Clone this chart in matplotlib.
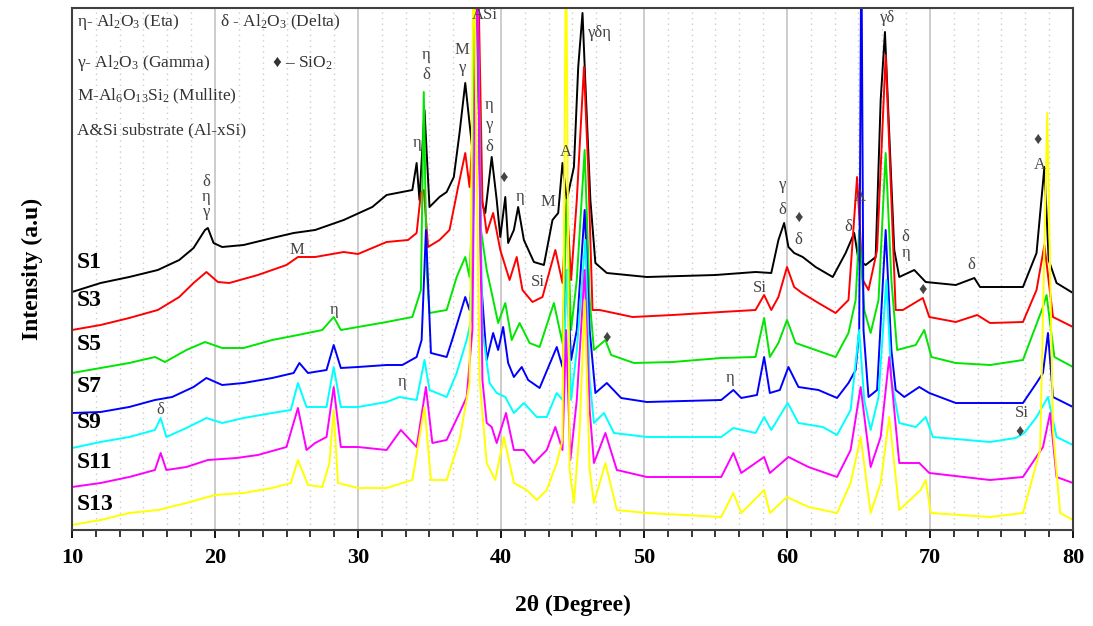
import numpy as np
import matplotlib.pyplot as plt

plt.rcParams['font.family'] = ['Liberation Serif', 'DejaVu Serif']
plt.rcParams['mathtext.fontset'] = 'custom'
plt.rcParams['mathtext.rm'] = 'Liberation Serif'

# (2theta, intensity a.u.), offset traces
s1 = [(10, 238), (12, 247), (14, 253), (16, 260), (17.5, 270), (18.5, 282), (19.3, 300), (19.5, 302),
      (19.9, 287), (20.5, 283), (22, 285), (24, 292), (25.5, 297), (27, 300), (29, 310), (31, 323),
      (32, 335), (33.8, 340), (34.1, 367), (34.3, 330), (34.65, 420), (35.0, 323), (35.7, 333),
      (36.2, 338), (36.7, 353), (37.1, 397), (37.5, 447), (37.7, 420), (38.0, 380), (38.3, 600),
      (38.6, 330), (38.9, 317), (39.35, 373), (39.7, 330), (39.95, 293), (40.3, 333), (40.5, 287),
      (40.9, 300), (41.2, 323), (41.6, 290), (42.3, 268), (43.0, 265), (43.6, 310), (44.0, 317),
      (44.3, 367), (44.6, 330), (45.1, 363), (45.4, 463), (45.7, 517), (45.9, 447), (46.25, 330),
      (46.6, 267), (47.4, 257), (50.2, 253), (55.0, 255), (57.8, 258), (58.9, 257), (59.4, 290),
      (59.8, 307), (60.1, 283), (60.5, 277), (61.1, 273), (62.0, 263), (63.2, 253), (64.1, 277),
      (64.7, 297), (65.0, 270), (65.5, 265), (66.2, 273), (66.55, 430), (66.85, 498), (67.1, 413),
      (67.5, 280), (67.85, 253), (68.9, 260), (69.7, 248), (71.8, 245), (73.1, 252), (73.5, 243),
      (76.5, 243), (77.45, 277), (78.0, 363), (78.3, 270), (78.85, 247), (80, 237)]
s3 = [(10, 200), (12, 205), (14, 212), (16, 220), (17.5, 233), (18.5, 247), (19.4, 258), (20.2, 248),
      (21, 247), (23, 255), (25, 265), (25.8, 273), (27, 273), (29, 278), (30, 276), (32, 288),
      (33.5, 290), (34.1, 297), (34.4, 337), (34.6, 340), (34.9, 283), (35.7, 290), (36.4, 300),
      (37.0, 343), (37.5, 377), (37.8, 343), (38.05, 400), (38.35, 600), (38.7, 330), (39.0, 297),
      (39.45, 317), (39.95, 280), (40.6, 250), (41.1, 273), (41.5, 240), (42.2, 228), (42.9, 233),
      (43.8, 280), (44.3, 247), (44.6, 330), (44.9, 250), (45.3, 330), (45.8, 463), (46.1, 360),
      (46.4, 220), (46.9, 220), (49.2, 213), (52, 215), (55.4, 218), (57.8, 220), (58.4, 235),
      (58.9, 220), (59.4, 233), (60.0, 263), (60.5, 243), (61.05, 237), (62.2, 227), (63.4, 217),
      (64.3, 230), (64.9, 353), (65.3, 250), (65.7, 240), (66.3, 280), (66.9, 475), (67.3, 330),
      (67.6, 220), (68.1, 220), (69.5, 232), (69.95, 213), (71.8, 208), (73.3, 215), (74.2, 207),
      (76.5, 208), (77.45, 240), (78.0, 285), (78.6, 213), (80, 203)]
s5 = [(10, 157), (12, 162), (14, 167), (15.8, 173), (16.5, 168), (18, 180), (19.3, 188), (20.5, 182),
      (22, 182), (24, 190), (25.8, 195), (27.5, 200), (28.3, 213), (28.8, 200), (30, 203), (32, 208),
      (33.8, 213), (34.4, 240), (34.6, 438), (34.8, 260), (35.0, 217), (36.2, 220), (36.9, 253),
      (37.5, 273), (37.8, 253), (38.0, 320), (38.2, 600), (38.6, 300), (39.0, 260), (39.35, 237),
      (39.8, 207), (40.3, 227), (40.75, 190), (41.3, 207), (42.0, 187), (42.7, 183), (43.7, 227),
      (44.3, 187), (44.6, 330), (44.9, 200), (45.3, 250), (45.85, 380), (46.2, 230), (46.5, 180),
      (47.3, 190), (47.7, 175), (49.3, 167), (52, 168), (55.4, 172), (57.8, 173), (58.4, 212),
      (58.8, 173), (59.4, 187), (60.0, 210), (60.6, 187), (62.0, 180), (63.4, 173), (64.3, 197),
      (64.8, 230), (65.05, 300), (65.4, 220), (65.85, 197), (66.4, 230), (66.9, 377), (67.3, 250),
      (67.7, 180), (69.0, 185), (69.6, 200), (70.1, 173), (71.8, 167), (74.2, 165), (76.5, 170),
      (77.9, 223), (78.15, 235), (78.7, 173), (80, 163)]
s7 = [(10, 117), (12, 118), (14, 123), (15.8, 130), (17, 133), (18.5, 143), (19.4, 152), (20.5, 145),
      (22, 147), (24, 152), (25.5, 157), (25.9, 167), (26.5, 157), (27.8, 160), (28.3, 185), (28.8, 162),
      (30, 163), (32, 165), (33.1, 165), (34.1, 173), (34.45, 190), (34.75, 300), (35.1, 177),
      (36.2, 173), (36.65, 193), (37.5, 233), (37.8, 220), (38.0, 260), (38.3, 600), (38.6, 250),
      (39.0, 170), (39.45, 197), (39.8, 180), (40.15, 203), (40.5, 167), (40.9, 153), (41.45, 163),
      (41.9, 150), (42.7, 142), (43.9, 183), (44.3, 163), (44.6, 260), (44.9, 170), (45.3, 200),
      (45.85, 320), (46.2, 200), (46.6, 137), (47.4, 147), (48.4, 132), (50.2, 128), (55.4, 130),
      (56.25, 140), (56.8, 132), (57.9, 135), (58.4, 173), (58.8, 137), (59.5, 140), (60.1, 163),
      (60.8, 143), (62.2, 140), (63.5, 132), (64.3, 147), (64.8, 160), (65.05, 200), (65.2, 600),
      (65.35, 200), (65.7, 133), (66.3, 140), (66.9, 300), (67.3, 180), (67.6, 140), (68.2, 133),
      (69.25, 143), (69.95, 137), (71.8, 127), (74.2, 127), (76.5, 127), (77.45, 147), (77.9, 157),
      (78.25, 197), (78.6, 133), (80, 123)]
s9 = [(10, 82), (12, 88), (14, 93), (15.8, 100), (16.2, 112), (16.6, 93), (18, 102), (19.4, 112),
      (20.5, 107), (22, 112), (24, 117), (25.3, 120), (25.8, 147), (26.4, 123), (27.8, 123), (28.3, 163),
      (28.8, 123), (30, 123), (32, 128), (32.9, 133), (34.1, 130), (34.65, 170), (35.0, 140),
      (36.2, 133), (36.9, 157), (37.6, 190), (37.95, 213), (38.3, 600), (38.7, 200), (39.2, 147),
      (39.7, 137), (40.3, 133), (40.9, 117), (41.6, 127), (42.5, 113), (43.2, 113), (43.9, 137),
      (44.3, 130), (44.6, 260), (44.9, 130), (45.3, 180), (45.9, 290), (46.2, 150), (46.5, 107),
      (47.2, 117), (47.9, 97), (50.2, 93), (55.4, 93), (56.25, 102), (57.8, 97), (58.4, 113),
      (58.9, 100), (60.05, 127), (60.8, 107), (62.5, 103), (63.5, 95), (64.45, 120), (65.05, 200),
      (65.4, 130), (65.85, 100), (66.4, 133), (66.95, 250), (67.3, 150), (67.85, 107), (69.0, 103),
      (69.7, 113), (70.2, 93), (74.2, 88), (76.0, 92), (76.6, 97), (77.45, 113), (78.25, 133),
      (78.85, 93), (80, 85)]
s11 = [(10, 43), (12, 47), (14, 53), (15.8, 60), (16.2, 77), (16.6, 60), (18, 63), (19.5, 70),
       (21.5, 72), (23, 75), (25, 83), (25.8, 122), (26.4, 80), (27, 87), (27.8, 93), (28.3, 143),
       (28.8, 83), (30, 83), (32, 80), (33.0, 100), (34.1, 83), (34.75, 143), (35.2, 87), (36.2, 90),
       (37.1, 117), (37.6, 133), (38.0, 200), (38.3, 600), (38.7, 150), (39.0, 107), (39.35, 103),
       (39.7, 87), (40.35, 117), (40.9, 80), (41.6, 80), (42.3, 67), (43.2, 80), (43.8, 103),
       (44.3, 80), (44.55, 200), (44.85, 70), (45.3, 130), (45.85, 260), (46.2, 120), (46.5, 67),
       (47.3, 97), (48.1, 60), (50.2, 53), (55.4, 53), (56.25, 77), (56.8, 57), (58.4, 73), (58.8, 57),
       (60.1, 73), (61.5, 63), (63.5, 53), (64.45, 80), (65.15, 143), (65.85, 63), (66.55, 93),
       (67.15, 173), (67.85, 67), (69.25, 67), (69.95, 57), (74.2, 50), (76.5, 53), (77.9, 83),
       (78.4, 117), (78.85, 53), (80, 47)]
s13 = [(10, 5), (12, 10), (14, 17), (16, 20), (18, 27), (20, 35), (22, 37), (24, 42), (25.3, 47),
       (25.8, 70), (26.5, 45), (27.5, 43), (28.0, 67), (28.3, 120), (28.6, 47), (30, 42), (32, 42),
       (33.8, 50), (34.65, 123), (35.1, 50), (36.2, 50), (37.1, 90), (37.8, 147), (38.1, 600),
       (38.5, 150), (39.0, 67), (39.6, 50), (40.2, 93), (40.9, 47), (41.8, 40), (42.5, 30), (43.2, 40),
       (43.9, 67), (44.3, 90), (44.55, 600), (44.8, 60), (45.1, 27), (45.5, 100), (45.85, 230),
       (46.2, 60), (46.5, 27), (47.3, 67), (48.1, 20), (50.2, 17), (55.4, 13), (56.25, 37), (56.8, 17),
       (58.4, 40), (58.8, 17), (60.0, 33), (61.5, 23), (63.5, 17), (64.45, 47), (65.15, 93),
       (65.85, 17), (66.55, 47), (67.15, 113), (67.85, 20), (69.35, 40), (69.7, 50), (70.05, 17),
       (74.2, 13), (76.5, 17), (77.7, 80), (78.2, 417), (78.6, 100), (79.1, 17), (80, 10)]

samples = ['S1', 'S3', 'S5', 'S7', 'S9', 'S11', 'S13']
traces = [s1, s3, s5, s7, s9, s11, s13]
colors = ['black', '#ff0000', '#00e600', '#0000ff', '#00ffff', '#ff00ff', '#ffff00']
label_y = [268, 230, 185, 143, 107, 67, 25]

# phase marks: (2theta, height, text)
peak_marks = [(19.4, 348, 'δ'), (19.4, 333, 'η'), (19.4, 318, 'γ'), (25.7, 280, 'M'),
              (34.1, 387, 'η'), (34.75, 475, 'η'), (34.75, 455, 'δ'), (37.3, 480, 'M'),
              (37.3, 462, 'γ'), (38.9, 515, 'ASi'), (39.2, 425, 'η'), (39.2, 405, 'γ'),
              (39.2, 383, 'δ'), (40.2, 352, '♦'), (41.3, 333, 'η'), (43.3, 328, 'M'),
              (44.5, 378, 'A'), (42.6, 248, 'Si'), (28.3, 220, 'η'), (16.2, 120, 'δ'),
              (33.1, 148, 'η'), (47.4, 192, '♦'), (56.0, 152, 'η'), (58.1, 242, 'Si'),
              (59.7, 345, 'γ'), (59.7, 320, 'δ'), (60.8, 312, '♦'), (60.8, 290, 'δ'),
              (64.3, 303, 'δ'), (65.1, 333, 'A'), (67.0, 512, 'γδ'), (68.3, 293, 'δ'),
              (68.3, 277, 'η'), (69.5, 240, '♦'), (72.9, 265, 'δ'), (77.5, 390, '♦'),
              (77.7, 365, 'A'), (76.4, 117, 'Si'), (76.3, 98, '♦')]

fig = plt.figure(figsize=(10.93, 6.26), dpi=100)
ax = fig.add_axes([72 / 1093, 1 - 530 / 626, 1001 / 1093, 522 / 626])

for name, data, c in zip(samples, traces, colors):
    tth = [p[0] for p in data]
    inten = [p[1] for p in data]
    ax.plot(tth, inten, color=c, lw=1.4)

for name, y in zip(samples, label_y):
    ax.text(10.35, y, name, fontsize=17, fontweight='bold', va='center', ha='left')

for x, y, t in peak_marks:
    ax.text(x, y, t, fontsize=12, color='#444444', ha='center', va='center')
ax.text(46.1, 497, 'γδη', fontsize=12, color='#444444', ha='left', va='center')

# phase key in the top-left corner
key_kw = dict(transform=ax.transAxes, fontsize=12.5, color='#333333', va='center', ha='left')
ax.text(0.005, 0.973, r'η- Al$\mathregular{_2}$O$\mathregular{_3}$ (Eta)', **key_kw)
ax.text(0.148, 0.973, r'δ - Al$\mathregular{_2}$O$\mathregular{_3}$ (Delta)', **key_kw)
ax.text(0.005, 0.895, r'γ- Al$\mathregular{_2}$O$\mathregular{_3}$ (Gamma)', **key_kw)
ax.text(0.200, 0.895, r'♦ – SiO$\mathregular{_2}$', **key_kw)
ax.text(0.005, 0.830, r'M-Al$\mathregular{_6}$O$\mathregular{_{13}}$Si$\mathregular{_2}$ (Mullite)', **key_kw)
ax.text(0.005, 0.766, 'A&Si substrate (Al-xSi)', **key_kw)

ax.set_xlim(10, 80)
ax.set_ylim(0, 522)
ax.set_yticks([])
ax.set_xticks(range(10, 81, 10))
ax.set_xticks(np.linspace(10, 80, 43), minor=True)
ax.set_xticklabels([str(v) for v in range(10, 81, 10)], fontsize=16, fontweight='bold')
ax.tick_params(axis='x', which='major', direction='out', length=6, width=1.3, pad=7)
ax.tick_params(axis='x', which='minor', direction='out', length=5, width=1.1)
ax.grid(which='major', axis='x', color='#c4c4c4', lw=1.2)
ax.grid(which='minor', axis='x', color='#cccccc', lw=1.0, ls=(0, (1, 3)))
ax.set_axisbelow(True)
for sp in ax.spines.values():
    sp.set_color('#404040')
    sp.set_linewidth(1.5)

ax.set_xlabel('2θ (Degree)', fontsize=17, fontweight='bold')
ax.xaxis.set_label_coords(0.5, -0.125)
ax.set_ylabel('Intensity (a.u)', fontsize=17, fontweight='bold')
ax.yaxis.set_label_coords(-0.029, 0.5)

fig.savefig('out.png', dpi=100)
